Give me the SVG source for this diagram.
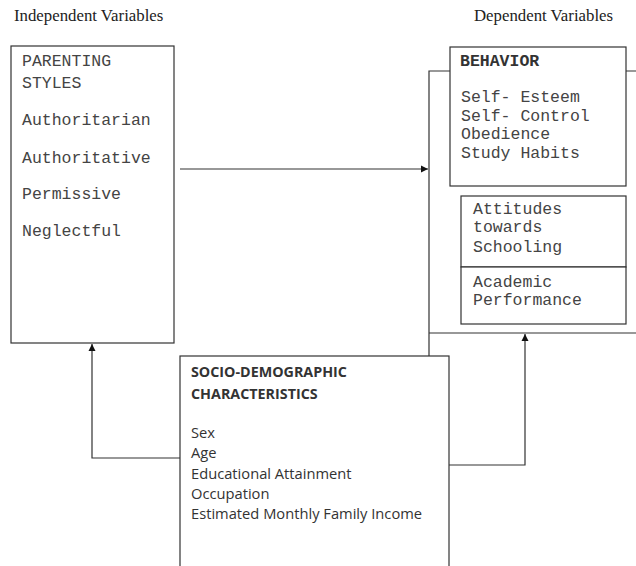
<svg xmlns="http://www.w3.org/2000/svg" width="636" height="566" viewBox="0 0 636 566">
<defs>
<style>
.box{fill:#fff;stroke:#333;stroke-width:1.2}
.ln{fill:none;stroke:#333;stroke-width:1.2}
.mono{font-family:"Liberation Mono",monospace;font-size:16.5px;fill:#444}
.monob{font-family:"Liberation Mono",monospace;font-size:16.5px;font-weight:bold;fill:#333}
.serif{font-family:"Liberation Serif",serif;font-size:16.8px;fill:#222}
.sans{font-family:"Open Sans","Noto Sans",sans-serif;font-size:14.7px;fill:#333}
.sansb{font-family:"Open Sans","Noto Sans",sans-serif;font-size:14.3px;font-weight:bold;fill:#333}
</style>
<marker id="ah" markerWidth="8" markerHeight="8" refX="7" refY="4" orient="auto" markerUnits="userSpaceOnUse">
<path d="M0,0.5 L7,4 L0,7.5 Z" fill="#111"/>
</marker>
</defs>
<rect width="636" height="566" fill="#fff"/>
<text class="serif" x="14" y="21">Independent Variables</text>
<text class="serif" x="474" y="21">Dependent Variables</text>
<g id="connectors">
<path class="ln" d="M429,356 V71 H450 M626,71 H636 M429,333 H636"/>
<path class="ln" d="M180,169 H428" marker-end="url(#ah)"/>
<path class="ln" d="M180,458 H92 V344" marker-end="url(#ah)"/>
<path class="ln" d="M449,465 H525 V334" marker-end="url(#ah)"/>
</g>
<g id="parenting">
<rect class="box" x="11" y="46" width="163" height="297"/>
<text class="mono" x="22" y="66">PARENTING</text>
<text class="mono" x="22" y="88">STYLES</text>
<text class="mono" x="22" y="125">Authoritarian</text>
<text class="mono" x="22" y="163">Authoritative</text>
<text class="mono" x="22" y="199">Permissive</text>
<text class="mono" x="22" y="236">Neglectful</text>
</g>
<g id="behavior">
<rect class="box" x="450" y="47" width="176" height="139"/>
<text class="monob" x="460" y="66">BEHAVIOR</text>
<text class="mono" x="461" y="102">Self- Esteem</text>
<text class="mono" x="461" y="121">Self- Control</text>
<text class="mono" x="461" y="139">Obedience</text>
<text class="mono" x="461" y="158">Study Habits</text>
</g>
<g id="attitudes">
<rect class="box" x="461" y="196" width="165" height="71"/>
<text class="mono" x="473" y="214">Attitudes</text>
<text class="mono" x="473" y="232">towards</text>
<text class="mono" x="473" y="252">Schooling</text>
</g>
<g id="academic">
<rect class="box" x="461" y="267" width="165" height="57"/>
<text class="mono" x="473" y="287">Academic</text>
<text class="mono" x="473" y="305">Performance</text>
</g>
<g id="socio">
<rect class="box" x="180" y="356" width="269" height="220"/>
<text class="sansb" x="191" y="377">SOCIO-DEMOGRAPHIC</text>
<text class="sansb" x="191" y="399">CHARACTERISTICS</text>
<text class="sans" x="191" y="438">Sex</text>
<text class="sans" x="191" y="458">Age</text>
<text class="sans" x="191" y="479">Educational Attainment</text>
<text class="sans" x="191" y="499">Occupation</text>
<text class="sans" x="191" y="519">Estimated Monthly Family Income</text>
</g>
</svg>
